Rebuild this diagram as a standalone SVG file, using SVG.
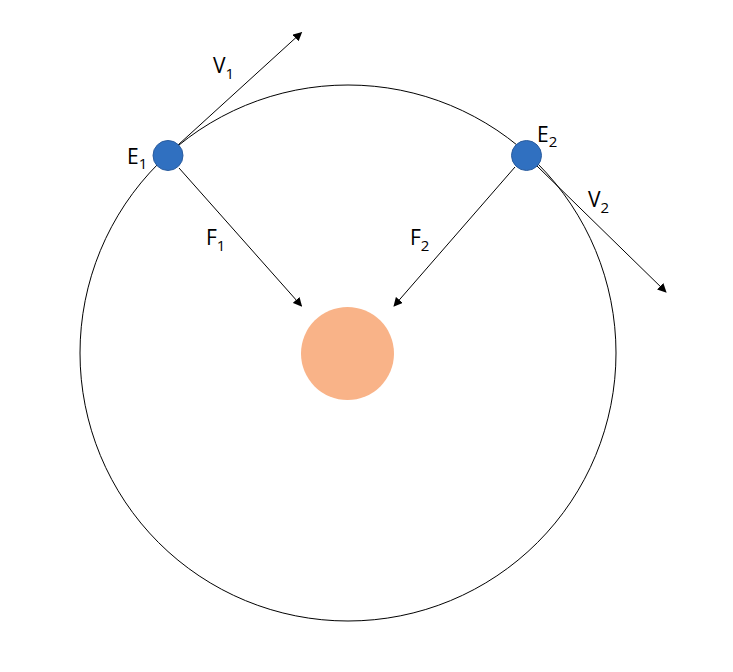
<svg xmlns="http://www.w3.org/2000/svg" width="733" height="672" viewBox="0 0 733 672">
<defs>
<style>
.ln{stroke:#000;stroke-width:1;fill:none}
.lbl{font-family:"Open Sans","Liberation Sans",sans-serif;font-size:21px;fill:#000}
.sub{font-size:15px}
.planet{fill:#3070C0;stroke:#2A5C9E;stroke-width:1}
</style>
<marker id="ah" viewBox="0 0 10 10" refX="9" refY="5" markerWidth="9" markerHeight="9" markerUnits="userSpaceOnUse" orient="auto">
<path d="M0,0 L10,5 L0,10 z" fill="#000"/>
</marker>
</defs>
<rect width="733" height="672" fill="#fff"/>
<g id="orbit"><circle cx="348" cy="353" r="268" class="ln"/></g>
<g id="connectors">
<line x1="178" y1="145" x2="301.5" y2="32.5" class="ln" marker-end="url(#ah)"/>
<line x1="537" y1="166" x2="666" y2="292" class="ln" marker-end="url(#ah)"/>
<line x1="179" y1="168" x2="301.5" y2="306" class="ln" marker-end="url(#ah)"/>
<line x1="515" y1="167" x2="394" y2="306" class="ln" marker-end="url(#ah)"/>
</g>
<g id="sun"><circle cx="347.5" cy="353.5" r="46.5" fill="#F9B388"/></g>
<g id="E1"><circle cx="168" cy="155.5" r="15" class="planet"/>
<text x="127" y="164" class="lbl">E<tspan class="sub" dy="5">1</tspan></text></g>
<g id="E2"><circle cx="526.5" cy="155.5" r="15" class="planet"/>
<text x="537" y="142" class="lbl">E<tspan class="sub" dy="5">2</tspan></text></g>
<g id="V1"><text x="213" y="73" class="lbl">V<tspan class="sub" dy="6">1</tspan></text></g>
<g id="V2"><text x="588" y="207" class="lbl">V<tspan class="sub" dy="6">2</tspan></text></g>
<g id="F1"><text x="206" y="245" class="lbl">F<tspan class="sub" dy="6">1</tspan></text></g>
<g id="F2"><text x="410" y="245" class="lbl">F<tspan class="sub" dy="6">2</tspan></text></g>
</svg>
